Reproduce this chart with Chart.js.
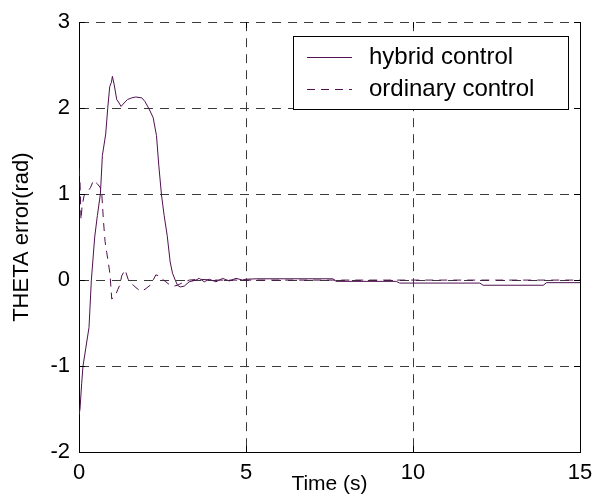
<!DOCTYPE html>
<html>
<head>
<meta charset="utf-8">
<script src="https://cdn.jsdelivr.net/npm/chart.js@4/dist/chart.umd.min.js"></script>
<style>
html,body{margin:0;padding:0;background:#fff;}
#wrap{width:595px;height:498px;position:relative;}
</style>
</head>
<body>
<div id="wrap"><canvas id="c" width="595" height="498"></canvas></div>
<script>
// ---- data ----
const hybridTime  = [0, 0.03, 0.08, 0.12, 0.2, 0.3, 0.37, 0.47, 0.55, 0.64, 0.7, 0.8, 0.86, 0.92, 0.97, 1.0, 1.05, 1.13, 1.2, 1.26, 1.35, 1.45, 1.58, 1.7, 1.88, 1.97, 2.1, 2.22, 2.32, 2.39, 2.47, 2.55, 2.64, 2.73, 2.8, 2.88, 2.95, 3.03, 3.15, 3.3, 3.5, 3.6, 3.75, 3.9, 4.1, 4.3, 4.5, 4.7, 4.9, 5.0, 5.33, 7.6, 7.7, 9.5, 9.6, 12.0, 12.1, 13.9, 14.0, 15];
const hybridError = [-1.57, -1.5, -1.2, -1.0, -0.8, -0.55, 0.0, 0.5, 0.75, 1.0, 1.45, 1.7, 2.0, 2.25, 2.3, 2.37, 2.28, 2.1, 2.06, 2.02, 2.06, 2.1, 2.12, 2.13, 2.12, 2.08, 1.99, 1.89, 1.68, 1.33, 0.99, 0.75, 0.52, 0.21, 0.08, 0.0, -0.06, -0.08, -0.07, -0.02, 0.0, 0.02, -0.02, 0.01, -0.02, 0.02, -0.01, 0.02, 0.0, 0.01, 0.015, 0.015, -0.015, -0.015, -0.035, -0.035, -0.06, -0.06, -0.03, -0.03];
const ordinaryTime  = [0, 0.03, 0.06, 0.09, 0.15, 0.25, 0.35, 0.43, 0.55, 0.63, 0.68, 0.73, 0.78, 0.83, 0.88, 0.93, 0.98, 1.04, 1.1, 1.16, 1.22, 1.28, 1.38, 1.47, 1.58, 1.68, 1.78, 1.88, 2.0, 2.13, 2.22, 2.3, 2.4, 2.48, 2.6, 2.73, 2.85, 2.95, 3.1, 3.3, 3.6, 4.0, 15];
const ordinaryError = [1.3, 1.15, 0.7, 0.85, 0.98, 1.02, 1.08, 1.16, 1.12, 1.08, 1.02, 0.7, 0.45, 0.32, 0.2, 0.06, -0.22, -0.2, -0.17, -0.11, -0.06, 0.05, 0.12, 0.01, -0.04, -0.08, -0.11, -0.13, -0.1, -0.06, 0.0, 0.06, 0.05, 0.015, -0.02, -0.06, -0.07, -0.06, -0.03, 0.0, 0.01, 0.0, 0.0];
const seriesLabels = ['hybrid control', 'ordinary control'];
const xTickValues = [0, 5, 10, 15];
const yTickValues = [-2, -1, 0, 1, 2, 3];
const xAxisTitle = 'Time (s)';
const yAxisTitle = 'THETA error(rad)';

// ---- build points ----
const toPoints = (t, v) => t.map((x, i) => ({x: x, y: v[i]}));
const lineColor = '#4F114F';
const FONT = '"Liberation Sans", Arial, Helvetica, sans-serif';
Chart.defaults.font.family = FONT;
Chart.defaults.color = '#000';

// MATLAB-style inward tick marks on all four sides
const innerTicks = {
  id: 'innerTicks',
  afterDatasetsDraw(chart) {
    const {ctx, chartArea, scales} = chart;
    const L = 6;
    ctx.save();
    ctx.strokeStyle = '#000';
    ctx.lineWidth = 1;
    ctx.setLineDash([]);
    ctx.beginPath();
    scales.x.ticks.forEach(t => {
      const px = Math.round(scales.x.getPixelForValue(t.value)) + 0.5;
      ctx.moveTo(px, chartArea.bottom); ctx.lineTo(px, chartArea.bottom - L);
      ctx.moveTo(px, chartArea.top); ctx.lineTo(px, chartArea.top + L);
    });
    scales.y.ticks.forEach(t => {
      const py = Math.round(scales.y.getPixelForValue(t.value)) + 0.5;
      ctx.moveTo(chartArea.left, py); ctx.lineTo(chartArea.left + L, py);
      ctx.moveTo(chartArea.right, py); ctx.lineTo(chartArea.right - L, py);
    });
    ctx.stroke();
    ctx.restore();
  }
};

const legendBox = {
  id: 'legendBox',
  afterDraw(chart) {
    const {ctx, chartArea} = chart;
    const w = 275, h = 73;
    const x0 = Math.round(chartArea.right - 12 - w);
    const y0 = Math.round(chartArea.top + 14);
    ctx.save();
    ctx.fillStyle = '#fff';
    ctx.fillRect(x0, y0, w, h);
    ctx.strokeStyle = '#000';
    ctx.lineWidth = 1;
    ctx.strokeRect(x0 + 0.5, y0 + 0.5, w, h);
    chart.data.datasets.forEach((ds, i) => {
      const cy = Math.round(y0 + 21 + i * 32);
      ctx.strokeStyle = ds.borderColor;
      ctx.lineWidth = 1;
      ctx.setLineDash(ds.borderDash || []);
      ctx.beginPath();
      ctx.moveTo(x0 + 14, cy + 0.5);
      ctx.lineTo(x0 + 59, cy + 0.5);
      ctx.stroke();
      ctx.setLineDash([]);
      ctx.fillStyle = '#000';
      ctx.font = '24px ' + FONT;
      ctx.textBaseline = 'middle';
      ctx.textAlign = 'left';
      ctx.fillText(ds.label, x0 + 76, cy);
    });
    ctx.restore();
  }
};

new Chart(document.getElementById('c'), {
  type: 'scatter',
  data: {
    datasets: [
      {
        label: seriesLabels[0],
        data: toPoints(hybridTime, hybridError),
        showLine: true,
        borderColor: lineColor,
        backgroundColor: lineColor,
        borderWidth: 1,
        pointRadius: 0,
        tension: 0
      },
      {
        label: seriesLabels[1],
        data: toPoints(ordinaryTime, ordinaryError),
        showLine: true,
        borderColor: lineColor,
        backgroundColor: lineColor,
        borderWidth: 1,
        borderDash: [8, 6],
        pointRadius: 0,
        tension: 0
      }
    ]
  },
  options: {
    responsive: false,
    devicePixelRatio: 1,
    animation: false,
    layout: { padding: { left: 0, right: 15, top: 20, bottom: 0 } },
    plugins: {
      legend: { display: false },
      tooltip: { enabled: false },
      title: { display: false }
    },
    scales: {
      x: {
        type: 'linear',
        position: 'bottom',
        min: 0, max: 15,
        afterBuildTicks: s => { s.ticks = xTickValues.map(v => ({value: v})); },
        afterFit: s => { s.height = 46; },
        ticks: { font: { size: 22 }, color: '#000', padding: 0, maxRotation: 0 },
        grid: { color: '#3a3a3a', lineWidth: 1, drawTicks: true, tickLength: 8, tickColor: 'rgba(0,0,0,0)' },
        border: { display: true, color: '#000', width: 1, dash: [9, 7] },
        title: { display: true, text: xAxisTitle, font: { size: 21 }, color: '#000', padding: { top: 0, bottom: 1 } }
      },
      y: {
        type: 'linear',
        position: 'left',
        min: -2, max: 3,
        afterBuildTicks: s => { s.ticks = yTickValues.map(v => ({value: v})); },
        afterFit: s => { s.width = 79; },
        ticks: { font: { size: 22 }, color: '#000', padding: 9 },
        grid: { color: '#3a3a3a', lineWidth: 1, drawTicks: false },
        border: { display: true, color: '#000', width: 1, dash: [9, 7] },
        title: { display: true, text: yAxisTitle, font: { size: 22 }, color: '#000', padding: { top: 9, bottom: 0 } }
      },
      yRight: {
        type: 'linear',
        position: 'right',
        min: -2, max: 3,
        afterFit: s => { s.width = 0; },
        ticks: { display: false },
        grid: { display: false, drawTicks: false },
        border: { display: true, color: '#000', width: 1 }
      }
    }
  },
  plugins: [innerTicks, legendBox]
});
</script>
</body>
</html>
